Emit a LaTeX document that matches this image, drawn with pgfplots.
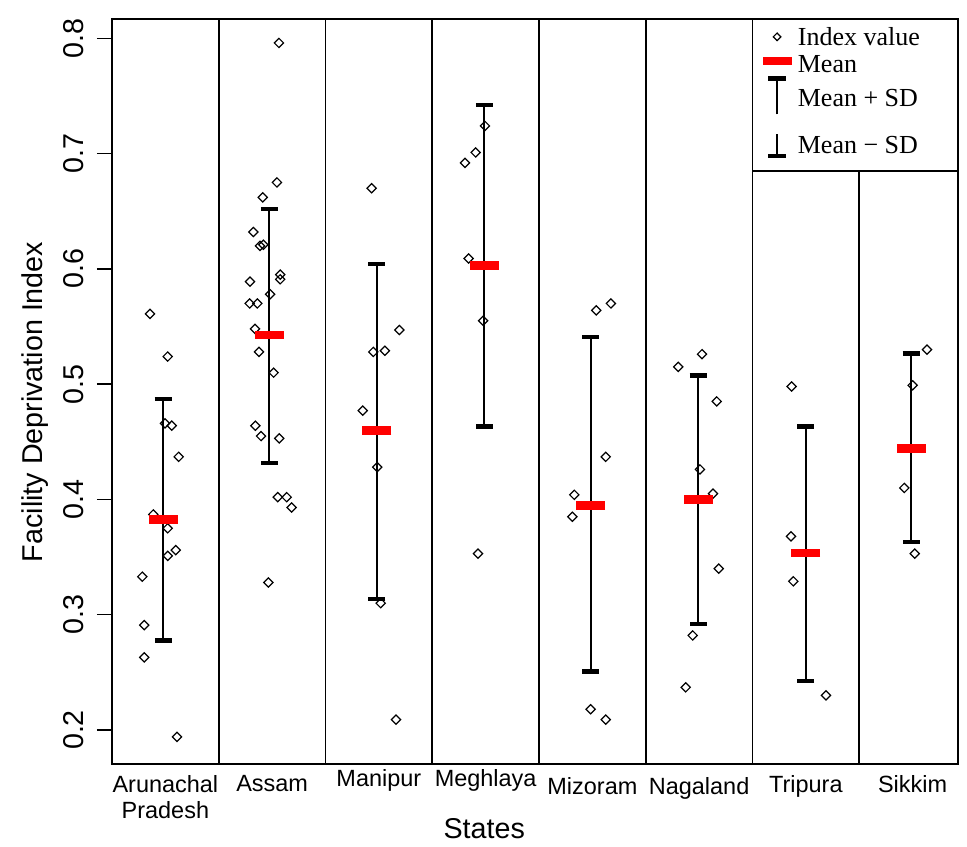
\documentclass[border=0pt]{standalone}
\usepackage{fontspec}
\setmainfont{Liberation Sans}
\newfontfamily\legfont{Liberation Serif}
\usepackage{graphicx}
\usepackage{pgfplots}
\usepackage{pgfplotstable}
\pgfplotsset{compat=1.18}

\newcommand\legsym[1]{\makebox[0pt][l]{\hspace*{18.4pt}\makebox[0pt][c]{#1}}\hspace*{34pt}}

\pgfplotstableread{
x y
0.356 0.561
0.522 0.524
0.497 0.466
0.560 0.464
0.625 0.437
0.387 0.387
0.522 0.375
0.597 0.356
0.522 0.351
0.284 0.333
0.302 0.291
0.302 0.263
0.609 0.194
1.564 0.796
1.545 0.675
1.412 0.662
1.324 0.632
1.387 0.620
1.418 0.621
1.576 0.595
1.576 0.591
1.293 0.589
1.481 0.578
1.290 0.570
1.361 0.570
1.340 0.548
1.377 0.528
1.514 0.510
1.343 0.464
1.396 0.455
1.567 0.453
1.552 0.402
1.636 0.402
1.683 0.393
1.465 0.328
2.432 0.670
2.692 0.547
2.448 0.528
2.557 0.529
2.349 0.477
2.485 0.428
2.517 0.310
2.661 0.209
3.494 0.724
3.407 0.701
3.307 0.692
3.341 0.609
3.476 0.555
3.429 0.353
4.536 0.564
4.674 0.570
4.625 0.437
4.331 0.404
4.312 0.385
4.484 0.218
4.625 0.209
5.305 0.515
5.527 0.526
5.665 0.485
5.508 0.426
5.630 0.405
5.684 0.340
5.440 0.282
5.374 0.237
6.367 0.498
6.361 0.368
6.382 0.329
6.688 0.230
7.635 0.530
7.500 0.499
7.422 0.410
7.520 0.353
}\pts

\pgfplotstableread{
x m up dn
0.480 0.3826 0.1044 0.1049
1.474 0.5426 0.1093 0.1107
2.480 0.4600 0.1443 0.1461
3.488 0.6029 0.1391 0.1397
4.484 0.3950 0.1462 0.1443
5.490 0.4000 0.1076 0.1081
6.498 0.3536 0.1096 0.1110
7.485 0.4441 0.0826 0.0809
}\stats

\begin{document}
\begin{tikzpicture}
\useasboundingbox (-84pt,-61.5pt) rectangle (641.25pt,573pt);
\begin{axis}[
  at={(0pt,0pt)}, anchor=south west,
  scale only axis, width=634.5pt, height=558.75pt,
  xmin=0, xmax=7.925, ymin=0.1705, ymax=0.8168,
  axis line style={line width=1.1pt},
  tick align=outside, major tick length=11.25pt,
  ytick pos=left,
  /pgf/number format/assume math mode=true,
  ytick={0.2,0.3,0.4,0.5,0.6,0.7,0.8},
  yticklabels={0.2,0.3,0.4,0.5,0.6,0.7,0.8},
  ytick style={line width=1.1pt, black},
  yticklabel style={rotate=90, anchor=south, inner sep=0pt,
    font=\fontsize{21.5pt}{24pt}\selectfont},
  yticklabel shift=9.5pt,
  xtick={0.5,1.5,2.5,3.5,4.5,5.5,6.5,7.5},
  xticklabels={{Arunachal\\Pradesh},Assam,
    {\raisebox{4pt}[\height][\depth]{Manipur}},
    {\raisebox{4pt}[\height][\depth]{Meghlaya}},
    {\raisebox{-2pt}[\height][\depth]{Mizoram}},
    {\raisebox{-2pt}[\height][\depth]{Nagaland}},
    Tripura,Sikkim},
  xtick style={draw=none},
  xticklabel style={align=center, anchor=north, inner sep=0pt,
    font=\fontsize{17.6pt}{20pt}\selectfont},
  xticklabel shift=-3pt,
  xlabel={States},
  ylabel={Facility Deprivation Index},
  xlabel style={at={(axis description cs:0.44,-0.087)}, anchor=center,
    font=\fontsize{21.5pt}{24pt}\selectfont},
  ylabel style={at={(axis description cs:-0.091,0.486)}, anchor=center,
    font=\fontsize{21.5pt}{24pt}\selectfont},
  legend plot pos=none,
  legend cell align=left,
  legend style={at={(axis cs:6,0.8168)}, anchor=north west,
    draw=none, fill=none, inner sep=0pt, outer sep=0pt,
    row sep=0pt, column sep=0pt,
    nodes={inner sep=0pt, font=\legfont\fontsize{19.5pt}{21pt}\selectfont}},
]
\addplot[forget plot, only marks, mark=square, mark size=2.45pt,
  mark options={rotate=45, black, line width=0.9pt, solid}]
  table[x=x, y=y]{\pts};

\addplot[forget plot, draw=none, mark=none,
  error bars/.cd, y dir=both, y explicit,
  error bar style={draw=black, line width=1.5pt},
  error mark options={draw=black, rotate=90, line width=3.2pt, mark size=6.4pt}]
  table[x=x, y=m, y error plus=up, y error minus=dn]{\stats};

\addplot[forget plot, only marks, mark=-, mark size=10.9pt,
  mark options={red, line width=6.5pt}]
  table[x=x, y=m]{\stats};

\draw[line width=1.3pt] (axis cs:1,0.1705) -- (axis cs:1,0.8168);
\draw[line width=1.3pt] (axis cs:2,0.1705) -- (axis cs:2,0.8168);
\draw[line width=1.3pt] (axis cs:3,0.1705) -- (axis cs:3,0.8168);
\draw[line width=1.3pt] (axis cs:4,0.1705) -- (axis cs:4,0.8168);
\draw[line width=1.3pt] (axis cs:5,0.1705) -- (axis cs:5,0.8168);
\draw[line width=1.3pt] (axis cs:6,0.1705) -- (axis cs:6,0.8168);
\draw[line width=1.3pt] (axis cs:7,0.1705) -- (axis cs:7,0.6852);
\draw[line width=1.3pt] (axis cs:6,0.6852) -- (axis cs:7.925,0.6852);

\addlegendimage{empty legend}
\addlegendentry{\rule[-3pt]{0pt}{23.25pt}\legsym{\raisebox{4.04pt}{\rotatebox{45}{\setlength{\fboxsep}{0pt}\setlength{\fboxrule}{0.9pt}\fbox{\rule{0pt}{3.1pt}\rule{3.1pt}{0pt}}}}}Index value}
\addlegendimage{empty legend}
\addlegendentry{\rule[-3pt]{0pt}{21.3pt}\legsym{\textcolor{red}{\rule[5.9pt]{21.8pt}{5.8pt}}}Mean}
\addlegendimage{empty legend}
\addlegendentry{\rule[-8pt]{0pt}{32.2pt}\legsym{\makebox[0pt][c]{\rule[-5.8pt]{1pt}{27pt}}\makebox[0pt][c]{\rule[19.6pt]{13pt}{3.2pt}}}Mean + SD}
\addlegendimage{empty legend}
\addlegendentry{\rule[-3pt]{0pt}{37pt}\legsym{\makebox[0pt][c]{\rule[-1.3pt]{1pt}{16.3pt}}\makebox[0pt][c]{\rule[-2.9pt]{13pt}{3.2pt}}}Mean − SD}
\end{axis}
\end{tikzpicture}
\end{document}
